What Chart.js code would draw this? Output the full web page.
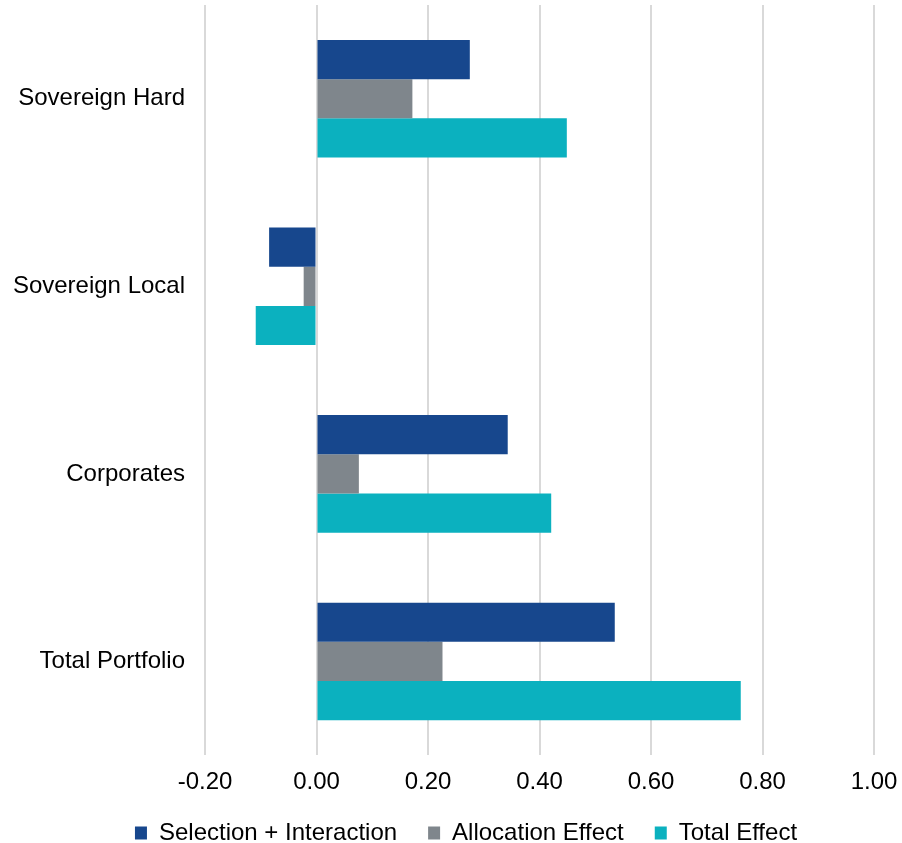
<!DOCTYPE html>
<html>
<head>
<meta charset="utf-8">
<script src="https://cdn.jsdelivr.net/npm/chart.js@4/dist/chart.umd.min.js"></script>
<style>
    html, body { margin: 0; padding: 0; background: #fff; }
    #wrap { width: 902px; height: 843px; }
</style>
</head>
<body>
<div id="wrap"><canvas id="attrChart" width="902" height="843"></canvas></div>
<script>
const categories = ["Sovereign Hard", "Sovereign Local", "Corporates", "Total Portfolio"];
const selectionInteraction = [0.275, -0.085, 0.343, 0.535];
const allocationEffect = [0.172, -0.023, 0.076, 0.226];
const totalEffect = [0.449, -0.109, 0.421, 0.761];
const xTicks = [-0.2, 0, 0.2, 0.4, 0.6, 0.8, 1.0];

(function() {
    let ctx = document.getElementById("attrChart").getContext("2d");
    Chart.defaults.font.family = "'Liberation Sans', Arial, sans-serif";
    Chart.defaults.color = "#000000";

    let data = {
        labels: categories,
        datasets: [{
            label: "Selection + Interaction",
            data: selectionInteraction,
            backgroundColor: "#17478d",
        },
        {
            label: "Allocation Effect",
            data: allocationEffect,
            backgroundColor: "#7f868c",
        },
        {
            label: "Total Effect",
            data: totalEffect,
            backgroundColor: "#0bb1bf",
        }]
    };

    // wider gap between legend entries without more vertical padding
    const legendLabels = function(chart) {
        let items = Chart.defaults.plugins.legend.labels.generateLabels(chart);
        items.forEach((it, i) => {
            if (i < items.length - 1) it.text = it.text + "   ";
        });
        return items;
    };

    let options = {
        indexAxis: "y",
        responsive: false,
        animation: false,
        categoryPercentage: 0.627,
        barPercentage: 1.0,
        layout: {
            padding: {left: 12, right: -18, top: 5, bottom: -12}
        },
        plugins: {
            legend: {
                position: "bottom",
                labels: {
                    font: {size: 24},
                    boxWidth: 12,
                    boxHeight: 13,
                    padding: 11,
                    generateLabels: legendLabels,
                }
            },
            tooltip: {enabled: false}
        },
        scales: {
            x: {
                min: -0.2,
                max: 1.0,
                afterBuildTicks: function(axis) {
                    axis.ticks = xTicks.map(v => ({value: v}));
                },
                afterFit: function(axis) {
                    axis.paddingLeft = 0;
                    axis.paddingRight = 28;
                },
                grid: {
                    color: "#d9d9d9",
                    lineWidth: 2,
                    drawTicks: false,
                },
                border: {display: false},
                ticks: {
                    font: {size: 24},
                    padding: 13,
                    callback: v => v.toFixed(2)
                }
            },
            y: {
                grid: {display: false, drawTicks: false},
                border: {display: false},
                ticks: {
                    font: {size: 24},
                    padding: 20,
                },
                afterFit: function(axis) {
                    axis.width = 193;
                    axis.paddingTop = 0;
                    axis.paddingBottom = 0;
                }
            }
        }
    };

    new Chart(ctx, {type: "bar", data: data, options: options});
})();
</script>
</body>
</html>
